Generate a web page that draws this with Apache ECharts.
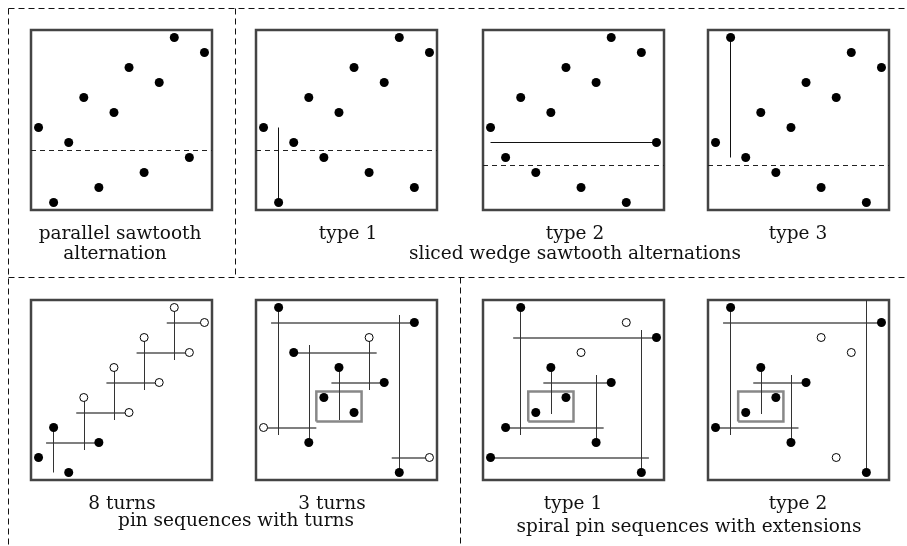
<!DOCTYPE html>
<html>
<head>
<meta charset="utf-8">
<script src="https://cdn.jsdelivr.net/npm/echarts@6/dist/echarts.min.js"></script>
<style>
html,body{margin:0;padding:0;background:#fff;}
#main{width:907px;height:546px;}
</style>
</head>
<body>
<div id="main"></div>
<script>
// panel 1: parallel sawtooth alternation
var p1Dots = [[1,6],[2,1],[3,5],[4,8],[5,2],[6,7],[7,10],[8,3],[9,9],[10,12],[11,4],[12,11]];
var p1Dash = 4.5;
// panel 2: sliced wedge, type 1
var p2Dots = [[1,6],[2,1],[3,5],[4,8],[5,4],[6,7],[7,10],[8,3],[9,9],[10,12],[11,2],[12,11]];
var p2Segs = [[[2,1],[2,6]]];
var p2Dash = 4.5;
// panel 3: type 2
var p3Dots = [[1,6],[2,4],[3,8],[4,3],[5,7],[6,10],[7,2],[8,9],[9,12],[10,1],[11,11],[12,5]];
var p3Segs = [[[1,5],[12,5]]];
var p3Dash = 3.5;
// panel 4: type 3
var p4Dots = [[1,5],[2,12],[3,4],[4,7],[5,3],[6,6],[7,9],[8,2],[9,8],[10,11],[11,1],[12,10]];
var p4Segs = [[[2,12],[2,4]]];
var p4Dash = 3.5;

// panel 5: 8 turns
var p5Filled = [[1,2],[2,4],[3,1],[5,3]];
var p5Open = [[4,6],[7,5],[6,8],[9,7],[8,10],[11,9],[10,12],[12,11]];
var p5V = [[[2,4],[2,1]],[[4,6],[4,2.5]],[[6,8],[6,4.5]],[[8,10],[8,6.5]],[[10,12],[10,8.5]]];
var p5H = [[[1.5,3],[5,3]],[[3.5,5],[7,5]],[[5.5,7],[9,7]],[[7.5,9],[11,9]],[[9.5,11],[12,11]]];

// panel 6: 3 turns
var p6Filled = [[2,12],[11,11],[3,9],[6,8],[9,7],[5,6],[7,5],[4,3],[10,1]];
var p6Open = [[8,10],[1,4],[12,2]];
var p6V = [[[2,12],[2,3.5]],[[10,1],[10,11.5]],[[8,10],[8,6.5]],[[4,3],[4,9.5]],[[6,8],[6,4.5]]];
var p6H = [[[1.5,11],[11,11]],[[9.5,2],[12,2]],[[3,9],[8.5,9]],[[1,4],[4.5,4]],[[5.5,7],[9,7]]];
var p6Box = [4.5,4.4,7.5,6.4];

// panel 7: spiral type 1
var p7Filled = [[3,12],[12,10],[5,8],[9,7],[6,6],[4,5],[2,4],[8,3],[1,2],[11,1]];
var p7Open = [[10,11],[7,9]];
var p7V = [[[3,12],[3,3.5]],[[11,1],[11,10.5]],[[5,8],[5,4.9]],[[8,3],[8,7.5]]];
var p7H = [[[2.5,10],[12,10]],[[1,2],[11.5,2]],[[4.5,7],[9,7]],[[2,4],[8.5,4]]];
var p7Box = [3.5,4.4,6.5,6.4];

// panel 8: spiral type 2
var p8Filled = [[2,12],[12,11],[4,8],[7,7],[5,6],[3,5],[1,4],[6,3],[11,1]];
var p8Open = [[8,10],[10,9],[9,2]];
var p8V = [[[2,12],[2,3.5]],[[11,1],[11,12.5]],[[4,8],[4,4.9]],[[6,3],[6,7.5]]];
var p8H = [[[1.5,11],[12,11]],[[3.5,7],[7,7]],[[1,4],[6.5,4]]];
var p8Box = [2.5,4.4,5.5,6.4];

var panelLeft = [31, 256, 483, 708, 31, 256, 483, 708];
var panelTop = [30, 30, 30, 30, 300, 300, 300, 300];

var chart = echarts.init(document.getElementById('main'));
var grids = [], xAxes = [], yAxes = [], series = [];

for (var i = 0; i < 8; i++) {
    grids.push({left: panelLeft[i], top: panelTop[i], width: 181, height: 180,
        show: true, borderColor: '#444', borderWidth: 2.5, backgroundColor: 'transparent'});
    xAxes.push({gridIndex: i, type: 'value', min: 0.5, max: 12.5, show: false});
    yAxes.push({gridIndex: i, type: 'value', min: 0.5, max: 12.5, show: false});
}

function segs(idx, list, color, width) {
    series.push({
        type: 'lines', coordinateSystem: 'cartesian2d', xAxisIndex: idx, yAxisIndex: idx,
        silent: true, z: 2,
        lineStyle: {color: color, width: width, opacity: 1},
        data: list.map(function (s) { return {coords: s}; })
    });
}
function dash(idx, y) {
    series.push({
        type: 'lines', coordinateSystem: 'cartesian2d', xAxisIndex: idx, yAxisIndex: idx,
        silent: true, z: 2,
        lineStyle: {color: '#222', width: 1, type: [5, 4], opacity: 1},
        data: [{coords: [[0.5, y], [12.5, y]]}]
    });
}
function box(idx, b) {
    series.push({
        type: 'lines', coordinateSystem: 'cartesian2d', xAxisIndex: idx, yAxisIndex: idx,
        polyline: true, silent: true, z: 2,
        lineStyle: {color: '#888', width: 2.5, opacity: 1},
        data: [{coords: [[b[0],b[1]],[b[2],b[1]],[b[2],b[3]],[b[0],b[3]],[b[0],b[1]]]}]
    });
}
function dots(idx, list) {
    series.push({
        type: 'scatter', xAxisIndex: idx, yAxisIndex: idx, z: 5, silent: true,
        symbolSize: 9, itemStyle: {color: '#000', opacity: 1}, data: list
    });
}
function rings(idx, list) {
    series.push({
        type: 'scatter', xAxisIndex: idx, yAxisIndex: idx, z: 5, silent: true,
        symbolSize: 8, itemStyle: {color: '#fff', borderColor: '#000', borderWidth: 1, opacity: 1}, data: list
    });
}

dash(0, p1Dash); dots(0, p1Dots);
dash(1, p2Dash); segs(1, p2Segs, '#111', 1); dots(1, p2Dots);
dash(2, p3Dash); segs(2, p3Segs, '#111', 1); dots(2, p3Dots);
dash(3, p4Dash); segs(3, p4Segs, '#111', 1); dots(3, p4Dots);

segs(4, p5H, '#555', 1.5); segs(4, p5V, '#333', 1); dots(4, p5Filled); rings(4, p5Open);
box(5, p6Box); segs(5, p6H, '#555', 1.5); segs(5, p6V, '#333', 1); dots(5, p6Filled); rings(5, p6Open);
box(6, p7Box); segs(6, p7H, '#555', 1.5); segs(6, p7V, '#333', 1); dots(6, p7Filled); rings(6, p7Open);
box(7, p8Box); segs(7, p8H, '#555', 1.5); segs(7, p8V, '#333', 1); dots(7, p8Filled); rings(7, p8Open);

function dline(x1, y1, x2, y2) {
    return {type: 'line', silent: true, shape: {x1: x1, y1: y1, x2: x2, y2: y2},
        style: {stroke: '#111', lineWidth: 1, lineDash: [6, 4]}};
}
function label(txt, x, y) {
    return {type: 'text', x: x, y: y, silent: true,
        style: {text: txt, fill: '#111', font: '18.5px "DejaVu Serif"', align: 'center', verticalAlign: 'middle'}};
}

chart.setOption({
    animation: false,
    grid: grids,
    xAxis: xAxes,
    yAxis: yAxes,
    series: series,
    graphic: [
        dline(8.5, 8.5, 907, 8.5),
        dline(8.5, 8.5, 8.5, 546),
        dline(235.5, 8.5, 235.5, 277.5),
        dline(8.5, 277.5, 907, 277.5),
        dline(460.5, 277.5, 460.5, 546),
        label('parallel sawtooth', 120, 234),
        label('alternation', 115, 254),
        label('type 1', 348, 234),
        label('type 2', 575, 234),
        label('type 3', 798, 234),
        label('sliced wedge sawtooth alternations', 575, 254),
        label('8 turns', 122, 504),
        label('3 turns', 332, 504),
        label('pin sequences with turns', 236, 521),
        label('type 1', 573, 504),
        label('type 2', 798, 504),
        label('spiral pin sequences with extensions', 689, 527)
    ]
});
</script>
</body>
</html>
